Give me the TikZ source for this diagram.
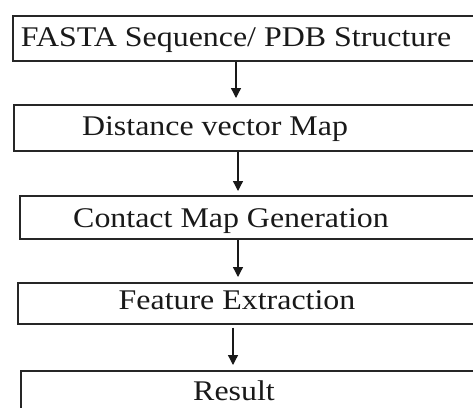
\documentclass[tikz,border=0pt]{standalone}
\usepackage{fontspec}
\setmainfont{Liberation Serif}
\usetikzlibrary{arrows.meta}
\begin{document}
\begin{tikzpicture}[x=1pt,y=-1pt,
  box/.style={draw=black!85, line width=1.6pt, rectangle, anchor=north west, inner sep=0pt},
  txt/.style={anchor=base, inner sep=0pt, text=black!90, font=\fontsize{28.5}{30}\selectfont},
  flow/.style={draw=black!90, line width=1.3pt, -{Triangle[width=10pt,length=10pt]}}]
\useasboundingbox (0,0) rectangle (473,407);
\clip (0,0) rectangle (473,407);
\fill[white] (0,0) rectangle (473,407);
% boxes
\node[box, minimum width=520pt, minimum height=45pt] (b1) at (12,15) {};
\node[box, minimum width=520pt, minimum height=46pt] (b2) at (13,104) {};
\node[box, minimum width=520pt, minimum height=43pt] (b3) at (19,195) {};
\node[box, minimum width=520pt, minimum height=41pt] (b4) at (17,282) {};
\node[box, minimum width=520pt, minimum height=60pt] (b5) at (20,370) {};
% texts
\node[txt] (t1) at (236,46) {\scalebox{1.12}[1]{FASTA Sequence/ PDB Structure}};
\node[txt] (t2) at (215,135) {\scalebox{1.12}[1]{Distance vector Map}};
\node[txt] (t3) at (231,227) {\scalebox{1.12}[1]{Contact Map Generation}};
\node[txt] (t4) at (237,309) {\scalebox{1.12}[1]{Feature Extraction}};
\node[txt] (t5) at (234,400) {\scalebox{1.12}[1]{Result}};
% arrows
\coordinate (a1) at (236,98);
\coordinate (a2) at (238,191);
\coordinate (a3) at (238,277);
\coordinate (a4) at (233,365);
\draw[flow] (b1.south -| a1) -- (a1);
\draw[flow] (b2.south -| a2) -- (a2);
\draw[flow] (b3.south -| a3) -- (a3);
\draw[flow, shorten <=3pt] (b4.south -| a4) -- (a4);
\end{tikzpicture}
\end{document}
